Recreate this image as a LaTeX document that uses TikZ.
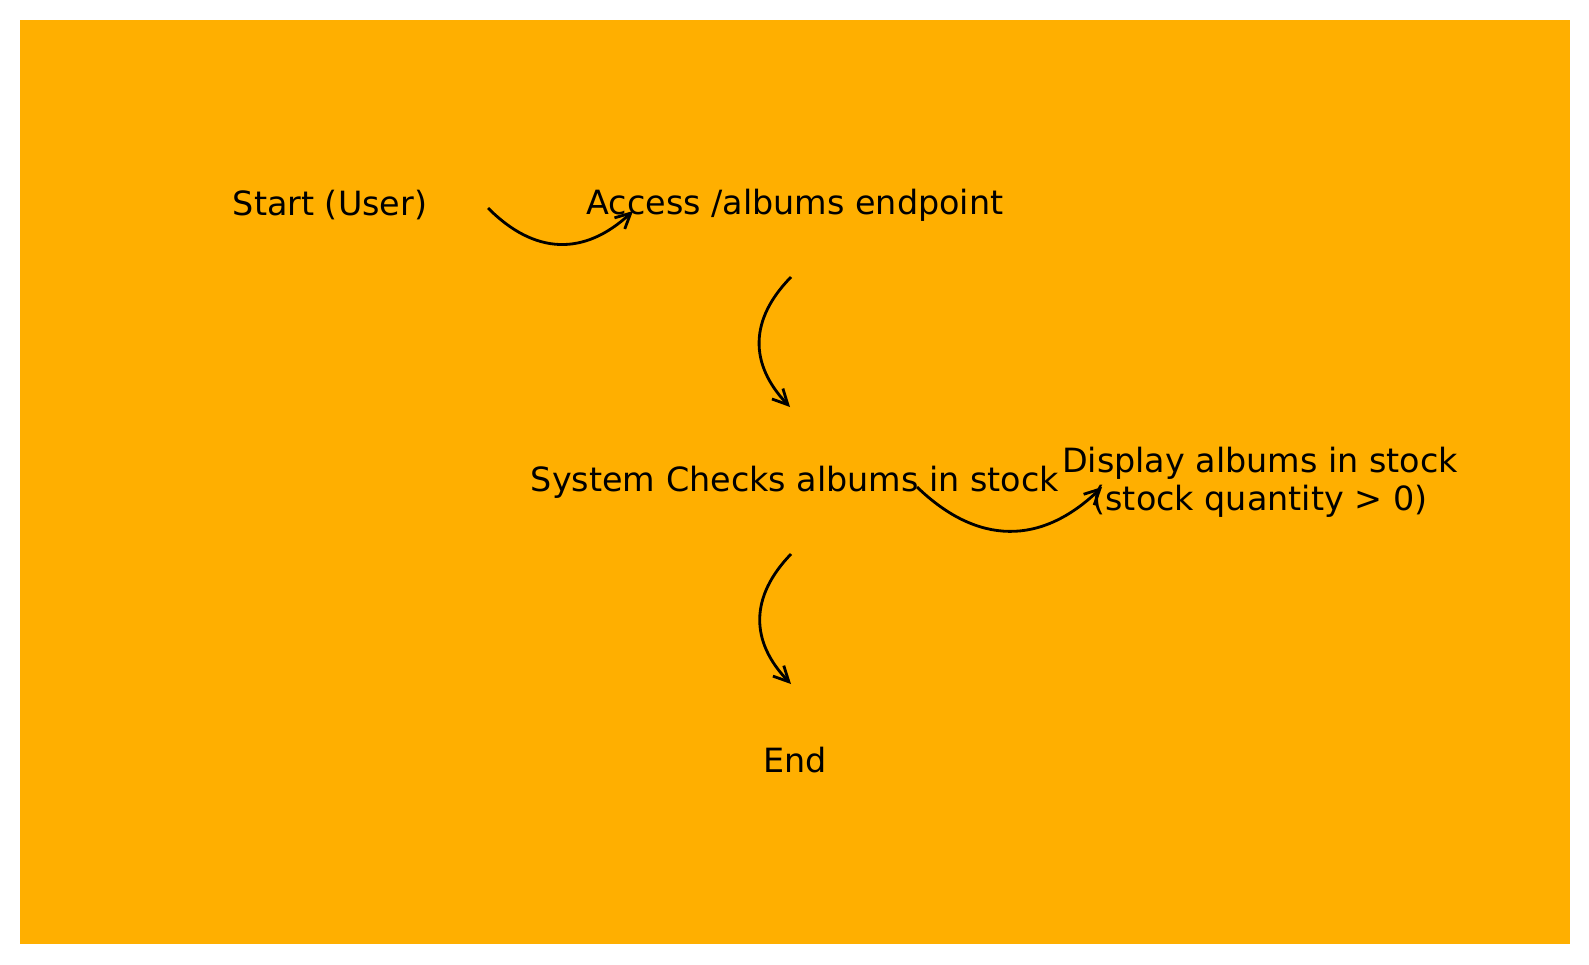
\documentclass[tikz,border=0pt]{standalone}
\usepackage{fontspec}
\setmainfont{DejaVu Sans}
\usepackage{tikz}
\usetikzlibrary{calc}
\usetikzlibrary{positioning,arrows.meta}
\definecolor{bgorange}{HTML}{FFAF00}
\tikzstyle{txt} = [rectangle, inner sep=0pt, text centered, font=\fontsize{9.5}{10.7}\selectfont]
\tikzstyle{twoline} = [txt, align=center]
\tikzstyle{line} = [draw, line width=0.8pt, -{Straight Barb[length=4.3pt,width=4.3pt]}]
\tikzstyle{curve} = [bend right=44, looseness=1.17]

\begin{document}
\begin{tikzpicture}[node distance = 2cm, auto]
    \useasboundingbox (0,0) rectangle (15.89,-9.64);
    \fill [bgorange] (0.20,-0.20) rectangle (15.70,-9.44);
    \node [txt] at (3.30,-2.05) (start) {Start (User)};
    \node [txt, right of=start, node distance=4.65cm] (access) {Access /albums endpoint};
    \node [txt, below of=access, node distance=2.77cm] (check) {System Checks albums in stock};
    \node [twoline, right of=check, node distance=4.65cm] (display) {Display albums in stock\\(stock quantity > 0)};
    \node [txt, below of=check, node distance=2.78cm] (end) {End};
    \path [line] ($(start)+(1.58,-0.03)$) to[curve] ($(access)+(-1.62,-0.06)$);
    \path [line] ($(access)+(-0.04,-0.72)$) to[curve] ($(check)+(-0.05,0.75)$);
    \path [line] ($(check)+(-0.04,-0.72)$) to[curve] ($(end)+(-0.04,0.76)$);
    \path [line] ($(check)+(1.22,-0.05)$) to[curve] ($(display)+(-1.58,-0.05)$);
  \end{tikzpicture}
\end{document}
